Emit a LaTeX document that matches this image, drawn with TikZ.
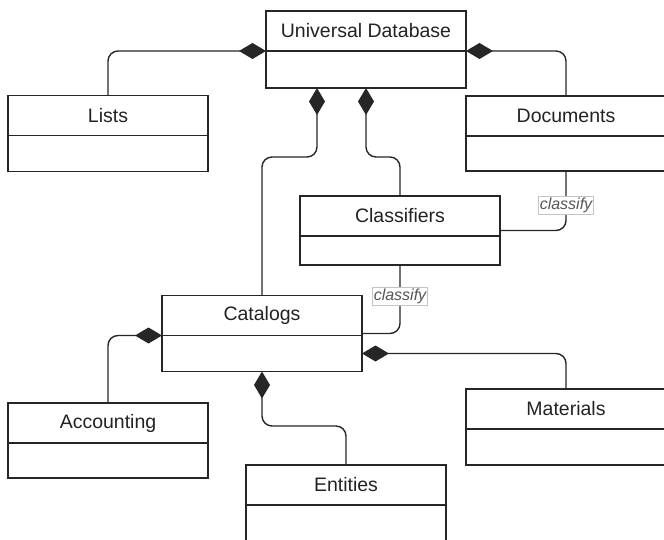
\documentclass[tikz,border=0pt]{standalone}
\usepackage{fontspec}
\setmainfont{Liberation Sans}
\usetikzlibrary{positioning,arrows.meta,calc}

\definecolor{umlline}{HTML}{262626}
\definecolor{umltext}{HTML}{222222}
\definecolor{tagline}{HTML}{C4C4C4}
\definecolor{tagtext}{HTML}{555555}

\tikzset{
  classhead/.style={draw=umlline, line width=1.4pt, minimum width=200pt, minimum height=40pt,
    inner sep=0pt, outer sep=0pt, text=umltext, font=\fontsize{19.5}{22}\selectfont},
  classbody/.style={draw=umlline, line width=1.4pt, minimum width=200pt, minimum height=#1,
    inner sep=0pt, outer sep=0pt},
  classbody/.default=36pt,
  comp/.style={draw=umlline, line width=1.4pt, rounded corners=10pt,
    -{Diamond[length=27pt,width=16pt]}},
  assoc/.style={draw=umlline, line width=1.4pt, rounded corners=10pt},
  tag/.style={draw=tagline, fill=white, sharp corners, line width=0.8pt, inner sep=1.5pt,
    text=tagtext, font=\fontsize{16}{18}\selectfont\itshape}
}

\begin{document}
\begin{tikzpicture}[x=1pt,y=-1pt]
  \useasboundingbox (0,0) rectangle (664,540);
  \clip (0,0) rectangle (664,540);

  % Universal Database
  \node[classhead] (udbHead) at (366,31) {Universal Database};
  \node[classbody=37pt, below=0pt of udbHead] (udbBody) {};

  % Lists and Documents
  \node[classhead] (listsHead) at (108,115.5) {Lists};
  \node[classbody, below=0pt of listsHead] (listsBody) {};
  \node[classhead] (docsHead) at (566,116) {Documents};
  \node[classbody=35pt, below=0pt of docsHead] (docsBody) {};

  % Classifiers
  \node[classhead] (clsHead) at (400,216) {Classifiers};
  \node[classbody=29pt, below=0pt of clsHead] (clsBody) {};

  % Catalogs
  \node[classhead] (catHead) at (262,315.5) {Catalogs};
  \node[classbody, below=0pt of catHead] (catBody) {};

  % Accounting, Materials, Entities
  \node[classhead] (accHead) at (108,423) {Accounting};
  \node[classbody=35pt, below=0pt of accHead] (accBody) {};
  \node[classhead] (matHead) at (566,409) {Materials};
  \node[classbody, below=0pt of matHead] (matBody) {};
  \node[classhead] (entHead) at (346,485) {Entities};
  \node[classbody=40pt, below=0pt of entHead] (entBody) {};

  % bends and ports
  \coordinate (bendUp) at (0,157);
  \coordinate (bendLow) at (0,426);
  \coordinate (udbPortL) at ([xshift=-49pt]udbBody.south);
  \coordinate (clsMid) at ($(clsHead.north east)!0.5!(clsBody.south east)$);
  \coordinate (catMid) at ($(catHead.north east)!0.5!(catBody.south east)$);

  % compositions of Universal Database
  \draw[comp] (listsHead.north) |- (udbHead.south west);
  \draw[comp] (docsHead.north) |- (udbHead.south east);
  \draw[comp] (catHead.north) -- (catHead.north |- bendUp) -| (udbPortL);
  \draw[comp] (clsHead.north) -- (clsHead.north |- bendUp) -| (udbBody.south);

  % classify links
  \draw[assoc] (docsBody.south) |- (clsMid) node[tag, pos=0.29] (tagDocs) {classify};
  \draw[assoc] (clsBody.south) |- (catMid) node[tag, pos=0.226] (tagCls) {classify};

  % compositions of Catalogs
  \draw[comp] (accHead.north) |- (catHead.south west);
  \draw[comp] (matHead.north) |- (catBody.east);
  \draw[comp] (entHead.north) -- (entHead.north |- bendLow) -| (catBody.south);
\end{tikzpicture}
\end{document}
